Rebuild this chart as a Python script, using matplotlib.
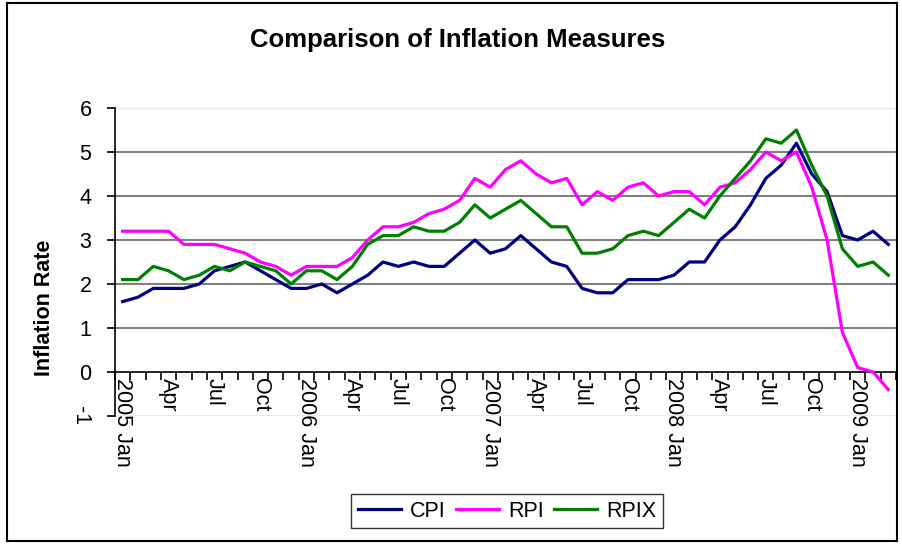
import matplotlib
matplotlib.use("Agg")
import matplotlib.pyplot as plt
from matplotlib.patches import Rectangle

plt.rcParams['font.family'] = ['Liberation Sans', 'DejaVu Sans']
plt.rcParams['axes.unicode_minus'] = False

# monthly data, 2005 Jan .. 2009 Mar
months = ['Jan', 'Feb', 'Mar', 'Apr', 'May', 'Jun', 'Jul', 'Aug', 'Sep', 'Oct', 'Nov', 'Dec']
years = [2005, 2006, 2007, 2008, 2009]
labels = []
for y in years:
    for m in months:
        labels.append(f"{y} {m}" if m == 'Jan' else m)
labels = labels[:51]

cpi = [1.6, 1.7, 1.9, 1.9, 1.9, 2.0, 2.3, 2.4, 2.5, 2.3, 2.1, 1.9,
       1.9, 2.0, 1.8, 2.0, 2.2, 2.5, 2.4, 2.5, 2.4, 2.4, 2.7, 3.0,
       2.7, 2.8, 3.1, 2.8, 2.5, 2.4, 1.9, 1.8, 1.8, 2.1, 2.1, 2.1,
       2.2, 2.5, 2.5, 3.0, 3.3, 3.8, 4.4, 4.7, 5.2, 4.5, 4.1, 3.1,
       3.0, 3.2, 2.9]
rpi = [3.2, 3.2, 3.2, 3.2, 2.9, 2.9, 2.9, 2.8, 2.7, 2.5, 2.4, 2.2,
       2.4, 2.4, 2.4, 2.6, 3.0, 3.3, 3.3, 3.4, 3.6, 3.7, 3.9, 4.4,
       4.2, 4.6, 4.8, 4.5, 4.3, 4.4, 3.8, 4.1, 3.9, 4.2, 4.3, 4.0,
       4.1, 4.1, 3.8, 4.2, 4.3, 4.6, 5.0, 4.8, 5.0, 4.2, 3.0, 0.9,
       0.1, 0.0, -0.4]
rpix = [2.1, 2.1, 2.4, 2.3, 2.1, 2.2, 2.4, 2.3, 2.5, 2.4, 2.3, 2.0,
        2.3, 2.3, 2.1, 2.4, 2.9, 3.1, 3.1, 3.3, 3.2, 3.2, 3.4, 3.8,
        3.5, 3.7, 3.9, 3.6, 3.3, 3.3, 2.7, 2.7, 2.8, 3.1, 3.2, 3.1,
        3.4, 3.7, 3.5, 4.0, 4.4, 4.8, 5.3, 5.2, 5.5, 4.7, 4.0, 2.8,
        2.4, 2.5, 2.2]

x = list(range(len(labels)))

fig = plt.figure(figsize=(9.02, 5.44), dpi=100)
ax = fig.add_axes([115 / 902, 1 - 416 / 544, (896 - 115) / 902, (416 - 108) / 544])

# gridlines
for v in [1, 2, 3, 4, 5]:
    ax.axhline(v, color='#808080', lw=1.5, zorder=1)
for v in [6, -1]:
    ax.axhline(v, color='#e6e6e6', lw=1.2, zorder=1)

ax.plot(x, cpi, color='#000080', lw=2.3, label='CPI', zorder=3)
ax.plot(x, rpi, color='#FF00FF', lw=2.3, label='RPI', zorder=3)
ax.plot(x, rpix, color='#008000', lw=2.3, label='RPIX', zorder=3)

ax.set_xlim(-0.5, len(labels) - 0.5)
ax.set_ylim(-1, 6)

for s in ['top', 'right']:
    ax.spines[s].set_visible(False)
ax.spines['bottom'].set_position(('data', 0))
ax.spines['bottom'].set_linewidth(1.2)
ax.spines['left'].set_linewidth(1.2)

ax.set_xticks(x[::3])
ax.set_xticklabels(labels[::3], rotation=-90, fontsize=15.5, va='top', ha='center')
ax.set_xticks([i - 0.5 for i in range(len(labels) + 1)], minor=True)
ax.tick_params(axis='x', which='major', length=0, pad=4)
ax.tick_params(axis='x', which='minor', length=6, width=1.2, direction='out')

ax.set_yticks(range(-1, 7))
ax.tick_params(axis='y', length=6, width=1.2, labelsize=15.5, pad=11)
for t in ax.get_yticklabels():
    if t.get_text() in ('-1', '\u22121'):
        t.set_rotation(-90)
        t.set_va('center')

fig.text(458 / 902, 1 - 40 / 544, 'Comparison of Inflation Measures',
         fontsize=18.5, fontweight='bold', ha='center', va='center')
fig.text(45 / 902, 1 - 308 / 544, 'Inflation Rate', fontsize=15.5,
         fontweight='bold', rotation=90, ha='center', va='center')

leg = fig.legend(loc='lower center', bbox_to_anchor=(507 / 902, 5 / 544), ncol=3,
                 fontsize=15.5, frameon=True, fancybox=False, edgecolor='black',
                 handlelength=2.0, columnspacing=0.5, handletextpad=0.4,
                 borderpad=0.3)
leg.get_frame().set_linewidth(1.0)

fig.patches.append(Rectangle((7 / 902, 3 / 544), 890 / 902, 538 / 544,
                             transform=fig.transFigure, fill=False,
                             edgecolor='black', lw=1.5))

fig.savefig('out.png', dpi=100)
